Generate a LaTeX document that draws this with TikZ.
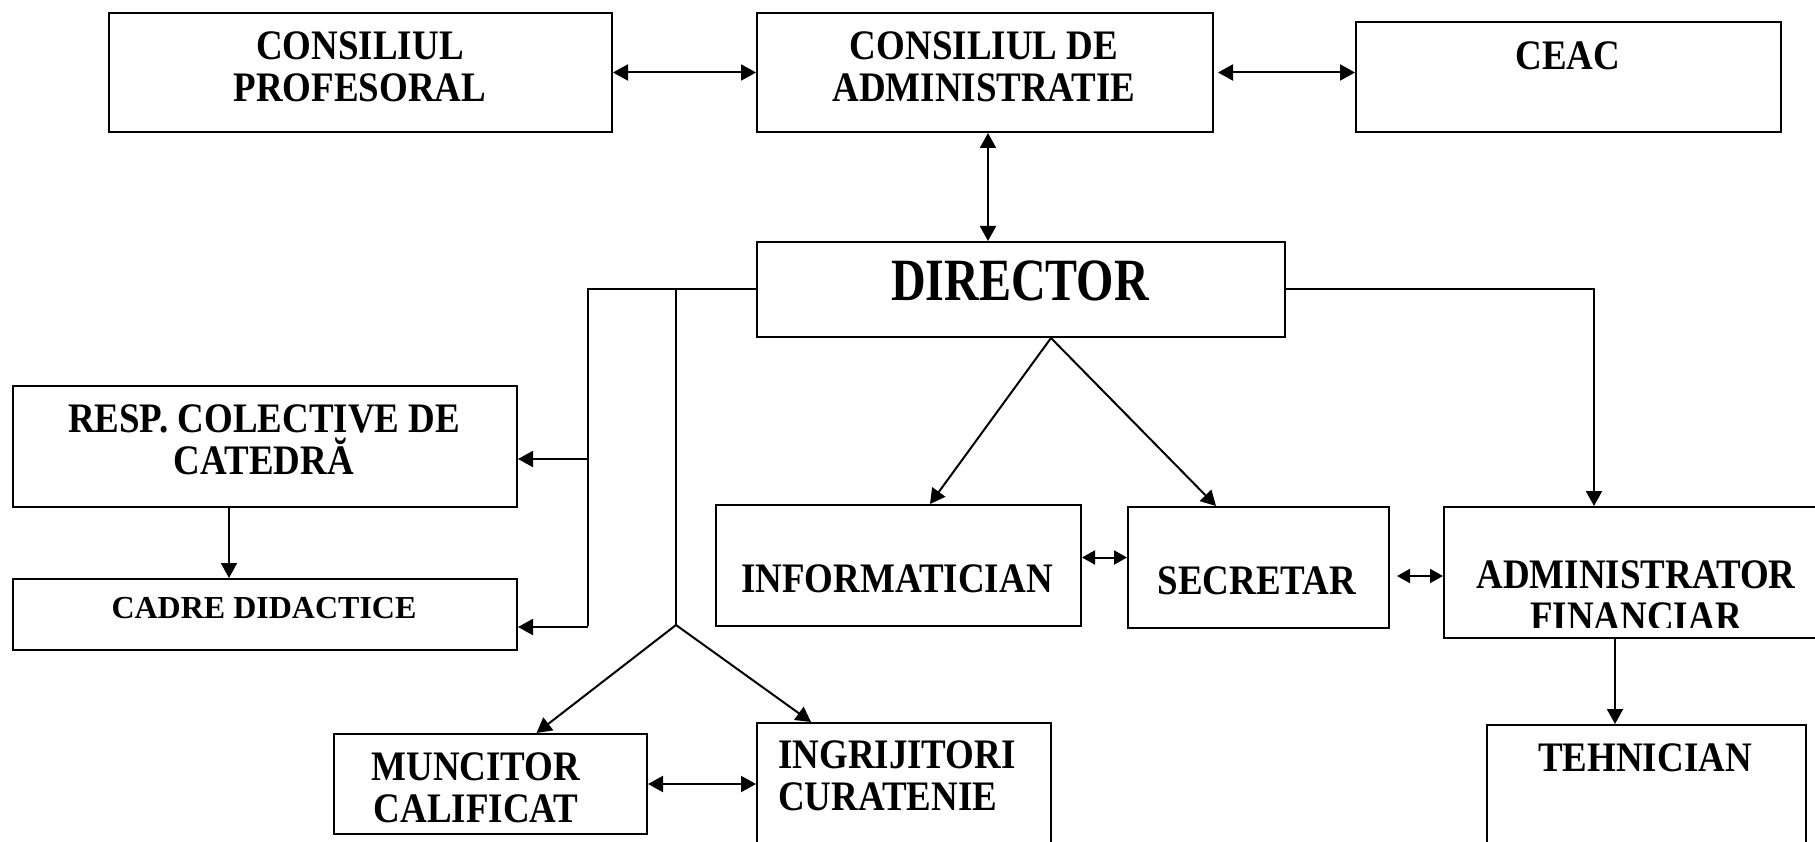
\documentclass[tikz,border=0pt]{standalone}
\usepackage{fontspec}
\setmainfont{Liberation Serif}
\newfontfamily\narrowfont[FakeStretch=0.88]{Liberation Serif}
\newfontfamily\dirfont[FakeStretch=0.8]{Liberation Serif}
\usetikzlibrary{arrows.meta}
\tikzset{
  box/.style={draw, line width=2pt, inner sep=0pt, anchor=north west},
  txt/.style={font=\narrowfont\fontsize{42}{42}\selectfont\bfseries, align=center, inner sep=0pt},
  arr/.style={line width=2pt, -{Triangle[length=15pt,width=16pt]}},
  dbl/.style={line width=2pt, {Triangle[length=15pt,width=16pt]}-{Triangle[length=15pt,width=16pt]}},
  sdbl/.style={line width=2pt, {Triangle[length=13pt,width=14pt]}-{Triangle[length=13pt,width=14pt]}}
}
\begin{document}
\begin{tikzpicture}[x=1pt,y=-1pt]
\clip (0,0) rectangle (1815,842);
\fill[white] (0,0) rectangle (1815,842);

% boxes
\node[box, minimum width=503pt, minimum height=119pt] (cp) at (108,12) {};
\node[box, minimum width=456pt, minimum height=119pt] (ca) at (756,12) {};
\node[box, minimum width=425pt, minimum height=110pt] (ceac) at (1355,21) {};
\node[box, minimum width=528pt, minimum height=95pt] (dir) at (756,241) {};
\node[box, minimum width=504pt, minimum height=121pt] (resp) at (12,385) {};
\node[box, minimum width=504pt, minimum height=71pt] (cadre) at (12,578) {};
\node[box, minimum width=365pt, minimum height=121pt] (info) at (715,504) {};
\node[box, minimum width=261pt, minimum height=121pt] (sec) at (1127,506) {};
\node[box, minimum width=400pt, minimum height=131pt] (admin) at (1443,506) {};
\node[box, minimum width=319pt, minimum height=160pt] (teh) at (1486,724) {};
\node[box, minimum width=313pt, minimum height=100pt] (munc) at (333,733) {};
\node[box, minimum width=294pt, minimum height=160pt] (ingr) at (756,722) {};

% texts
\node[txt] (cpt) at (360,67) {CONSILIUL\\PROFESORAL};
\node[txt] (cat) at (984,67) {CONSILIUL DE\\ADMINISTRATIE};
\node[txt] (ceact) at (1568,56) {CEAC};
\node[txt, font=\dirfont\fontsize{60}{60}\selectfont\bfseries] (dirt) at (1020,281) {DIRECTOR};
\node[txt] (respt) at (264,440) {RESP. COLECTIVE DE\\CATEDRĂ};
\node[txt, font=\fontsize{32}{36}\selectfont\bfseries] (cadret) at (264,608) {CADRE DIDACTICE};
\node[txt] (infot) at (897,579) {INFORMATICIAN};
\node[txt] (sect) at (1257,581) {SECRETAR};
\begin{scope}
  \clip (1443,506) rectangle (1815,627);
  \node[txt] (admint) at (1636,596) {ADMINISTRATOR\\FINANCIAR};
\end{scope}
\node[txt] (teht) at (1645,758) {TEHNICIAN};
\node[txt] (munct) at (476,788) {MUNCITOR\\CALIFICAT};
\node[txt, align=left, anchor=west] (ingrt) at (778,776) {INGRIJITORI\\CURATENIE};

% connectors
\draw[dbl] (cp.east) -- (ca.west);
\draw[dbl] ([xshift=4pt]ca.east) -- (ca.east -| ceac.west);
\draw[dbl] ([xshift=3pt]ca.south) -- ([xshift=3pt]ca.south |- dir.north);

\coordinate (rail) at (588,626);
\coordinate (fork) at (676,625);
\coordinate (respin) at ([yshift=-12.5pt]resp.east);
\coordinate (cadrein) at ([yshift=-12.5pt]cadre.east);
\draw[line width=2pt] (dir.west) -| (rail);
\draw[arr] (respin -| rail) -- (respin);
\draw[arr] (cadrein -| rail) -- (cadrein);
\draw[line width=2pt] (fork |- dir.west) -- (fork);
\draw[arr] (fork) -- ([xshift=46pt]munc.north);
\draw[arr] (fork) -- ([xshift=-93pt]ingr.north);
\draw[arr] ([xshift=-36pt]resp.south) -- ([xshift=-36pt]cadre.north);

\draw[arr] ([xshift=30pt]dir.south) -- ([xshift=31.5pt]info.north);
\draw[arr] ([xshift=30pt]dir.south) -- ([xshift=-42.5pt]sec.north);
\draw[arr] (dir.east) -| ([xshift=-50pt]admin.north);
\draw[sdbl] ([yshift=8pt]info.east) -- ([yshift=10pt]sec.west);
\draw[sdbl] ([xshift=7pt,yshift=-8.5pt]sec.east) -- ([yshift=-3.5pt]admin.west);
\draw[arr] ([xshift=-29pt]admin.south) -- ([xshift=-29pt]admin.south |- teh.north);
\draw[dbl] (munc.east) -- (munc.east -| ingr.west);
\end{tikzpicture}
\end{document}
